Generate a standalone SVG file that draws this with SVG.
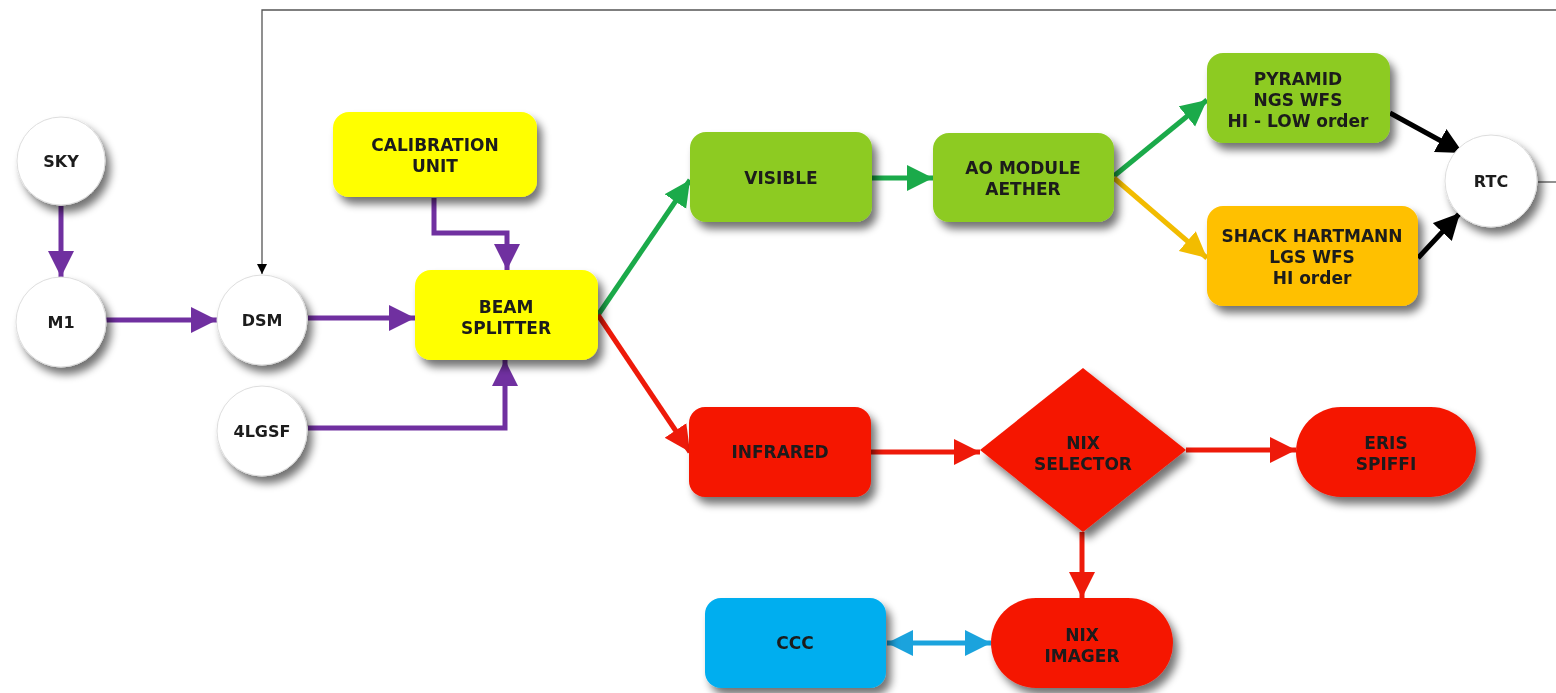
<svg xmlns="http://www.w3.org/2000/svg" width="1556" height="693" viewBox="0 0 1556 693">
<defs>
<filter id="sh" x="-20%" y="-20%" width="150%" height="160%">
<feGaussianBlur in="SourceAlpha" stdDeviation="4"/>
<feOffset dx="5" dy="7" result="b"/>
<feComponentTransfer><feFuncA type="linear" slope="0.55"/></feComponentTransfer>
<feMerge><feMergeNode/><feMergeNode in="SourceGraphic"/></feMerge>
</filter>
<marker id="aP" markerUnits="userSpaceOnUse" markerWidth="30" markerHeight="30" refX="26" refY="13" orient="auto"><path d="M0,0 L26,13 L0,26 Z" fill="#7030A0"/></marker>
<marker id="aG" markerUnits="userSpaceOnUse" markerWidth="30" markerHeight="30" refX="26" refY="13" orient="auto"><path d="M0,0 L26,13 L0,26 Z" fill="#1BAA4A"/></marker>
<marker id="aY" markerUnits="userSpaceOnUse" markerWidth="30" markerHeight="30" refX="26" refY="13" orient="auto"><path d="M0,0 L26,13 L0,26 Z" fill="#F2BC00"/></marker>
<marker id="aR" markerUnits="userSpaceOnUse" markerWidth="30" markerHeight="30" refX="26" refY="13" orient="auto"><path d="M0,0 L26,13 L0,26 Z" fill="#EE1A0A"/></marker>
<marker id="aK" markerUnits="userSpaceOnUse" markerWidth="30" markerHeight="30" refX="26" refY="13" orient="auto"><path d="M0,0 L26,13 L0,26 Z" fill="#000"/></marker>
<marker id="aB" markerUnits="userSpaceOnUse" markerWidth="30" markerHeight="30" refX="26" refY="13" orient="auto"><path d="M0,0 L26,13 L0,26 Z" fill="#1BA3DD"/></marker>
<marker id="aBs" markerUnits="userSpaceOnUse" markerWidth="30" markerHeight="30" refX="0" refY="13" orient="auto"><path d="M26,0 L0,13 L26,26 Z" fill="#1BA3DD"/></marker>
<marker id="aT" markerUnits="userSpaceOnUse" markerWidth="12" markerHeight="12" refX="10" refY="5" orient="auto"><path d="M0,0 L10,5 L0,10 Z" fill="#000"/></marker>
</defs>
<style>
.t{font-family:"DejaVu Sans",Verdana,sans-serif;font-weight:bold;font-size:17px;fill:#1a1a1a;text-anchor:middle}
.s{font-size:16px}
.c{fill:#fff;stroke:#ddd;stroke-width:1}
.n{filter:url(#sh)}
.p{fill:none;stroke:#7030A0;stroke-width:5}
.g{fill:none;stroke:#1BAA4A;stroke-width:5}
.y{fill:none;stroke:#F2BC00;stroke-width:5}
.r{fill:none;stroke:#EE1A0A;stroke-width:5}
.k{fill:none;stroke:#000;stroke-width:5}
.b{fill:none;stroke:#1BA3DD;stroke-width:5}
.th{fill:none;stroke:#555;stroke-width:1.3}
</style>
<rect width="1556" height="693" fill="#fff"/>
<g id="connectors">
<polyline class="th" points="1538,182 1556,182"/>
<polyline class="th" points="1556,10 262,10 262,274" marker-end="url(#aT)"/>
<line class="p" x1="61" y1="206" x2="61" y2="277" marker-end="url(#aP)"/>
<line class="p" x1="106" y1="320" x2="217" y2="320" marker-end="url(#aP)"/>
<line class="p" x1="308" y1="318" x2="415" y2="318" marker-end="url(#aP)"/>
<polyline class="p" points="434,198 434,233 507,233 507,270" marker-end="url(#aP)"/>
<polyline class="p" points="308,428 505,428 505,360" marker-end="url(#aP)"/>
<line class="g" x1="598" y1="315" x2="690" y2="180" marker-end="url(#aG)"/>
<line class="r" x1="598" y1="315" x2="690" y2="452" marker-end="url(#aR)"/>
<line class="g" x1="872" y1="178" x2="933" y2="178" marker-end="url(#aG)"/>
<line class="g" x1="1114" y1="176" x2="1207" y2="100" marker-end="url(#aG)"/>
<line class="y" x1="1114" y1="178" x2="1207" y2="258" marker-end="url(#aY)"/>
<line class="k" x1="1390" y1="113" x2="1463" y2="153" marker-end="url(#aK)"/>
<line class="k" x1="1418" y1="258" x2="1460" y2="213" marker-end="url(#aK)"/>
<line class="r" x1="871" y1="452" x2="980" y2="452" marker-end="url(#aR)"/>
<line class="r" x1="1186" y1="450" x2="1296" y2="450" marker-end="url(#aR)"/>
<line class="r" x1="1082" y1="532" x2="1082" y2="598" marker-end="url(#aR)"/>
<line class="b" x1="887" y1="643" x2="991" y2="643" marker-start="url(#aBs)" marker-end="url(#aB)"/>
</g>
<g id="sky" class="n"><circle class="c" cx="61" cy="161" r="44"/><text class="t s" x="61" y="167">SKY</text></g>
<g id="m1" class="n"><circle class="c" cx="61" cy="322" r="45"/><text class="t s" x="61" y="328">M1</text></g>
<g id="dsm" class="n"><circle class="c" cx="262" cy="320" r="45"/><text class="t s" x="262" y="326">DSM</text></g>
<g id="lgsf" class="n"><circle class="c" cx="262" cy="431" r="45"/><text class="t s" x="262" y="437">4LGSF</text></g>
<g id="rtc" class="n"><circle class="c" cx="1491" cy="181" r="46"/><text class="t s" x="1491" y="187">RTC</text></g>
<g id="calib" class="n"><rect x="333" y="112" width="204" height="85" rx="16" fill="#FFFF00"/><text class="t" x="435" y="151">CALIBRATION</text><text class="t" x="435" y="172">UNIT</text></g>
<g id="beam" class="n"><rect x="415" y="270" width="183" height="90" rx="16" fill="#FFFF00"/><text class="t" x="506" y="313">BEAM</text><text class="t" x="506" y="334">SPLITTER</text></g>
<g id="visible" class="n"><rect x="690" y="132" width="182" height="90" rx="16" fill="#8DCB23"/><text class="t" x="781" y="184">VISIBLE</text></g>
<g id="ao" class="n"><rect x="933" y="133" width="181" height="89" rx="16" fill="#8DCB23"/><text class="t" x="1023" y="174">AO MODULE</text><text class="t" x="1023" y="195">AETHER</text></g>
<g id="pyramid" class="n"><rect x="1207" y="53" width="183" height="90" rx="16" fill="#8DCB23"/><text class="t" x="1298" y="85">PYRAMID</text><text class="t" x="1298" y="106">NGS WFS</text><text class="t" x="1298" y="127">HI - LOW order</text></g>
<g id="shack" class="n"><rect x="1207" y="206" width="211" height="100" rx="16" fill="#FFC000"/><text class="t" x="1312" y="242">SHACK HARTMANN</text><text class="t" x="1312" y="263">LGS WFS</text><text class="t" x="1312" y="284">HI order</text></g>
<g id="infrared" class="n"><rect x="689" y="407" width="182" height="90" rx="16" fill="#F51505"/><text class="t" x="780" y="458">INFRARED</text></g>
<g id="selector" class="n"><polygon points="1083,368 1186,450 1083,532 980,450" fill="#F51505"/><text class="t" x="1083" y="449">NIX</text><text class="t" x="1083" y="470">SELECTOR</text></g>
<g id="eris" class="n"><rect x="1296" y="407" width="180" height="90" rx="45" fill="#F51505"/><text class="t" x="1386" y="449">ERIS</text><text class="t" x="1386" y="470">SPIFFI</text></g>
<g id="ccc" class="n"><rect x="705" y="598" width="181" height="90" rx="16" fill="#00AEEF"/><text class="t" x="795" y="649">CCC</text></g>
<g id="imager" class="n"><rect x="991" y="598" width="182" height="90" rx="45" fill="#F51505"/><text class="t" x="1082" y="641">NIX</text><text class="t" x="1082" y="662">IMAGER</text></g>
</svg>
